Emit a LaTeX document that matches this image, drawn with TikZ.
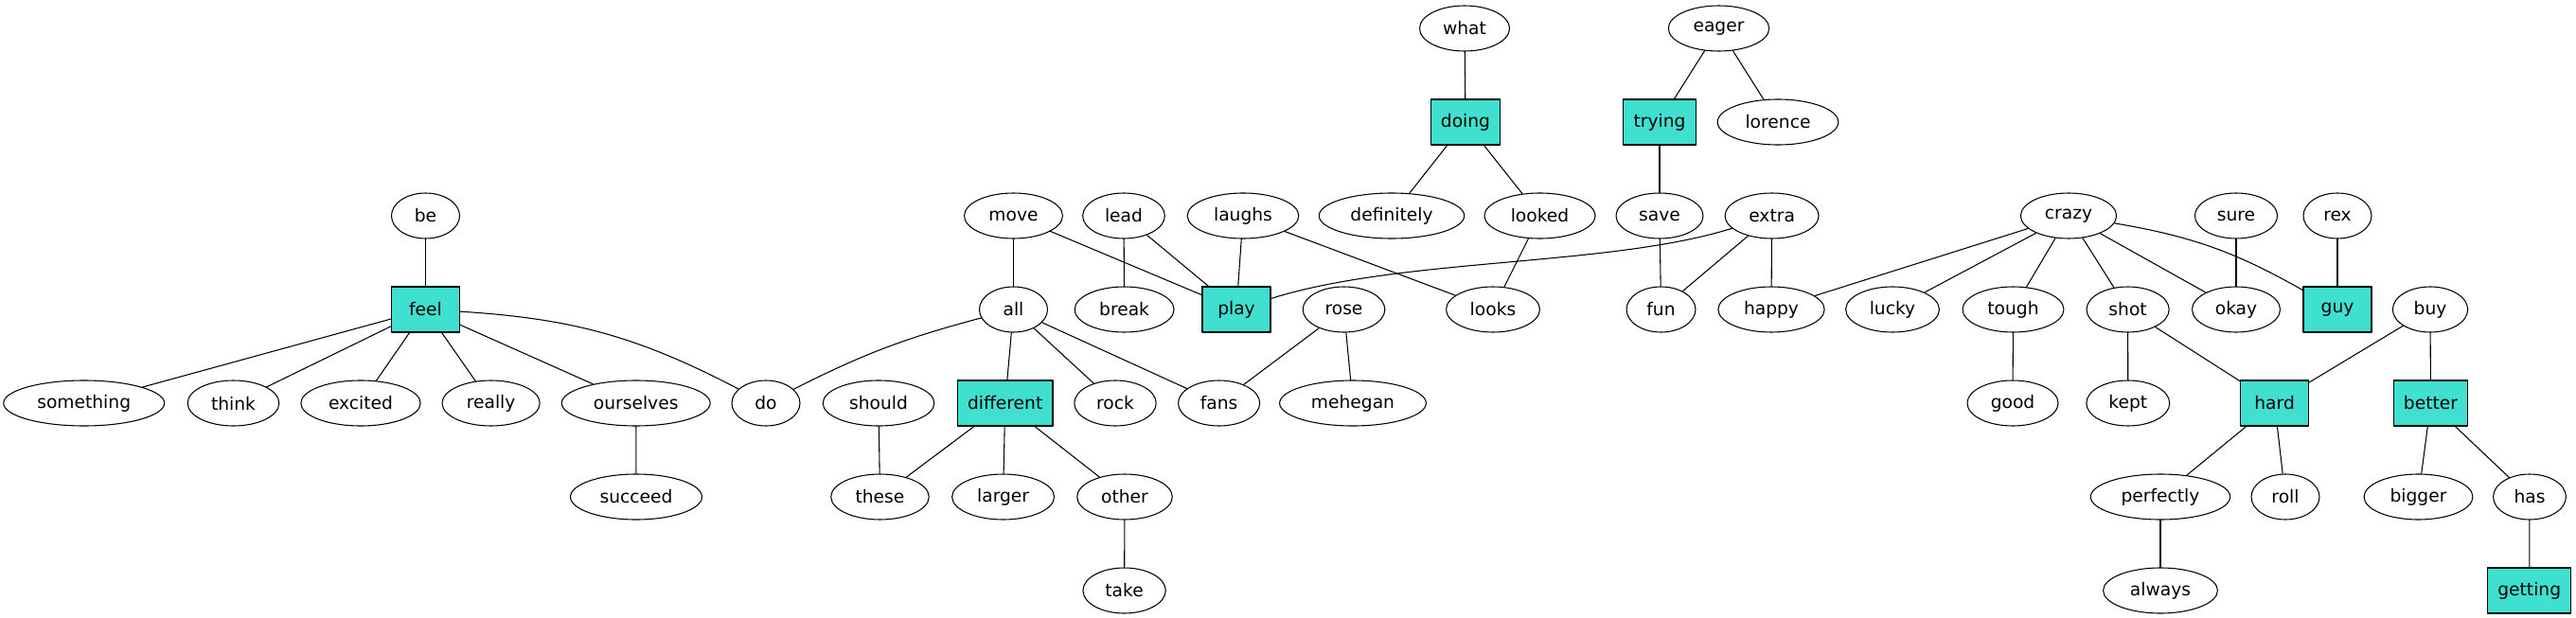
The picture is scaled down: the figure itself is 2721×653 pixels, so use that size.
\documentclass[tikz,border=0pt]{standalone}
\usepackage{fontspec}
\setmainfont{DejaVu Sans}
\usetikzlibrary{shapes.geometric}
\definecolor{turq}{HTML}{40E0D0}

\begin{document}
\begin{tikzpicture}[line cap=round,line join=round,x=0.75pt,y=-0.75pt,
  every node/.style={font=\fontsize{14}{16}\selectfont, draw, line width=0.8pt, inner xsep=8pt, inner ysep=4pt, minimum width=54pt, minimum height=36pt},
  word/.style={ellipse},
  root/.style={rectangle, fill=turq}]
\useasboundingbox (0,0) rectangle (2721,653);

% Top rows
\node [word] (what) at (1547,30) {what};
\node [word] (eager) at (1815.5,30) {eager};
\node [root] (doing) at (1548,129) {doing};
\node [root] (trying) at (1753,129) {trying};
\node [word] (lorence) at (1878,129) {lorence};

% Third row
\node [word] (be) at (449.5,228) {be};
\node [word] (move) at (1070.5,228) {move};
\node [word] (lead) at (1187,228) {lead};
\node [word] (laughs) at (1313,228) {laughs};
\node [word] (definitely) at (1470,228) {definitely};
\node [word] (looked) at (1626.5,228) {looked};
\node [word] (save) at (1753,228) {save};
\node [word] (extra) at (1871.6,228) {extra};
\node [word] (crazy) at (2185,228) {crazy};
\node [word] (sure) at (2362,228) {sure};
\node [word] (rex) at (2469,228) {rex};

% Fourth row
\node [root] (feel) at (449.5,327) {feel};
\node [word] (all) at (1070.5,327) {all};
\node [word] (break) at (1187.6,327) {break};
\node [root] (play) at (1306,327) {play};
\node [word] (rose) at (1419.5,327) {rose};
\node [word] (looks) at (1577,327) {looks};
\node [word] (fun) at (1754.5,327) {fun};
\node [word] (happy) at (1871,327) {happy};
\node [word] (lucky) at (1999,327) {lucky};
\node [word] (tough) at (2126.5,327) {tough};
\node [word] (shot) at (2247.6,327) {shot};
\node [word] (okay) at (2362,327) {okay};
\node [root] (guy) at (2469,327) {guy};
\node [word] (buy) at (2567,327) {buy};

% Fifth row
\node [word] (something) at (88.7,426) {something};
\node [word] (think) at (246.5,426) {think};
\node [word] (excited) at (381,426) {excited};
\node [word] (really) at (518.6,426) {really};
\node [word] (ourselves) at (671.7,426) {ourselves};
\node [word] (do) at (809,426) {do};
\node [word] (should) at (928,426) {should};
\node [root] (different) at (1061.7,426) {different};
\node [word] (rock) at (1178,426) {rock};
\node [word] (fans) at (1287.6,426) {fans};
\node [word] (mehegan) at (1429,426) {mehegan};
\node [word] (good) at (2126,426) {good};
\node [word] (kept) at (2247.8,426) {kept};
\node [root] (hard) at (2402.6,426) {hard};
\node [root] (better) at (2567.5,426) {better};

% Bottom rows
\node [word] (succeed) at (672,525) {succeed};
\node [word] (these) at (929.5,525) {these};
\node [word] (larger) at (1059.6,525) {larger};
\node [word] (other) at (1188,525) {other};
\node [word] (perfectly) at (2282,525) {perfectly};
\node [word] (roll) at (2414,525) {roll};
\node [word] (bigger) at (2554.5,525) {bigger};
\node [word] (has) at (2672,525) {has};
\node [word] (take) at (1187.6,624) {take};
\node [word] (always) at (2282,624) {always};
\node [root] (getting) at (2671.7,624) {getting};

% Straight edges
\foreach \a/\b in {be/feel, feel/something, feel/think, feel/excited, feel/really,
  feel/ourselves, ourselves/succeed, move/all, move/play, lead/break, lead/play,
  laughs/play, laughs/looks, all/different, all/rock, all/fans, rose/fans,
  rose/mehegan, should/these, different/these, different/larger, different/other,
  other/take, what/doing, doing/definitely, doing/looked, looked/looks,
  eager/trying, eager/lorence, trying/save, save/fun, extra/fun, extra/happy,
  crazy/happy, crazy/lucky, crazy/tough, crazy/shot, crazy/okay, sure/okay,
  rex/guy, tough/good, shot/kept, shot/hard, buy/hard, buy/better,
  hard/perfectly, hard/roll, perfectly/always, better/bigger, better/has,
  has/getting}
\draw [line width=0.8pt] (\a) -- (\b);

% Curved edges
\draw [line width=0.8pt] (feel) to [bend left=12] (do);
\draw [line width=0.8pt] (all) to [bend right=6] (do);
\draw [line width=0.8pt] (crazy) to [bend left=10] (guy);
\draw [line width=0.8pt] (extra) .. controls (1700,282) and (1480,272) .. (play);
\end{tikzpicture}
\end{document}
